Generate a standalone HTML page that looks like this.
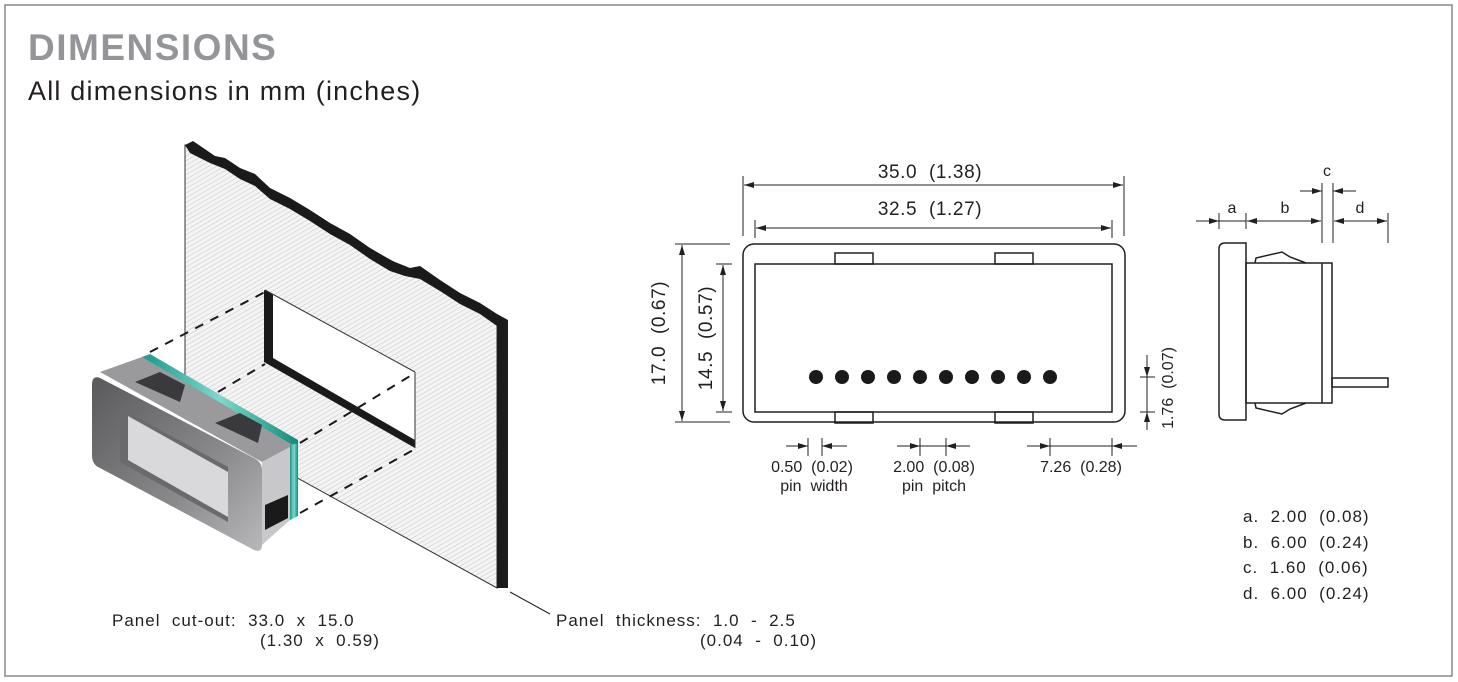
<!DOCTYPE html>
<html><head><meta charset="utf-8"><style>
html,body{margin:0;padding:0;background:#fff;}
svg{display:block;}
text{font-family:"Liberation Sans",sans-serif;fill:#231f20;}
</style></head><body>
<svg width="1458" height="682" viewBox="0 0 1458 682" xmlns="http://www.w3.org/2000/svg">
<defs>
<pattern id="hatch" width="4" height="4" patternUnits="userSpaceOnUse" patternTransform="rotate(60)">
<rect width="4" height="4" fill="#f4f4f4"/><line x1="0" y1="0" x2="0" y2="4" stroke="#c4c4c4" stroke-width="1"/>
</pattern>
<linearGradient id="bez" x1="0" y1="0" x2="1" y2="1"><stop offset="0" stop-color="#5a5a5c"/><stop offset="0.6" stop-color="#8a8a8c"/><stop offset="1" stop-color="#b8b8ba"/></linearGradient>
<linearGradient id="teal" x1="0" y1="0" x2="1" y2="0"><stop offset="0" stop-color="#1a9a8c"/><stop offset="0.5" stop-color="#7fd8cc"/><stop offset="1" stop-color="#138a7c"/></linearGradient>
<marker id="ar" viewBox="0 0 10 6" refX="10" refY="3" markerWidth="12" markerHeight="6" markerUnits="userSpaceOnUse" orient="auto-start-reverse"><path d="M0,0 L10,3 L0,6 Z" fill="#231f20"/></marker>
</defs>
<rect x="5" y="5" width="1447" height="671" fill="none" stroke="#888" stroke-width="1.5"/>
<text x="28" y="60" font-size="37" font-weight="bold" letter-spacing="1.5" style="fill:#939598">DIMENSIONS</text>
<text x="28" y="100" font-size="27" letter-spacing="1.2">All dimensions in mm (inches)</text>

<!-- Panel -->
<polygon points="185,145 497,320 497,588 185,416" fill="url(#hatch)" stroke="#333" stroke-width="1"/>
<path d="M185,145 L193,141 L215,156 L225,158 L240,168 L255,174 L270,188 L290,198 L310,210 L330,223 L350,234 L370,248 L390,260 L410,268 L420,266 L440,280 L460,293 L480,303 L497,314 L508,320 L508,588 L497,588 L497,326 L480,314 L460,304 L440,291 L420,279 L405,276 L390,271 L370,259 L350,245 L330,234 L310,221 L290,209 L270,199 L255,186 L240,179 L225,169 L210,163 L190,153 Z" fill="#1a1a1a"/>
<!-- cutout -->
<polygon points="265,290 415,372 415,448 265,362" fill="#fff"/>
<polygon points="264,290 273,294 273,358 415,440 415,448 264,362" fill="#1a1a1a"/>
<line x1="265" y1="290" x2="415" y2="372" stroke="#333" stroke-width="1"/>
<line x1="415" y1="372" x2="415" y2="448" stroke="#333" stroke-width="1"/>
<!-- dashed -->
<g stroke="#1a1a1a" stroke-width="2" stroke-dasharray="9,8" fill="none">
<line x1="150" y1="352" x2="265" y2="292"/>
<line x1="218" y1="392" x2="265" y2="364"/>
<line x1="300" y1="443" x2="415" y2="373"/>
<line x1="300" y1="513" x2="415" y2="449"/>
</g>
<!-- device -->
<polygon points="100,372 142,357 298,443 262,462" fill="#9a9a9c"/>
<polygon points="142,357 150,354 298,440 298,448" fill="url(#teal)"/>
<polygon points="290,445 298,443 298,516 290,520" fill="url(#teal)"/>
<polygon points="262,462 290,447 290,520 262,545" fill="#c8c8ca"/>
<polygon points="265,505 288,495 288,518 265,530" fill="#1a1a1a"/>
<polygon points="135,382 160,372 185,385 180,402" fill="#3a3a3c"/>
<polygon points="215,423 240,413 262,425 258,443" fill="#3a3a3c"/>
<path d="M100,378 Q92,375 92,385 L92,455 Q92,465 100,468 L254,550 Q262,553 262,545 L262,470 Q262,462 254,458 Z" fill="url(#bez)"/>
<polygon points="120,408 228,467 228,522 120,462" fill="#6a6a6c"/>
<polygon points="128,416 228,472 228,517 128,460" fill="#d9d9db"/>

<!-- leader -->
<line x1="510" y1="592" x2="550" y2="614" stroke="#231f20" stroke-width="1"/>
<g font-size="17" letter-spacing="1">
<text x="112" y="626" xml:space="preserve">Panel  cut-out:  33.0  x  15.0</text>
<text x="260" y="646" xml:space="preserve">(1.30  x  0.59)</text>
<text x="556" y="626" xml:space="preserve">Panel  thickness:  1.0  -  2.5</text>
<text x="700" y="646" xml:space="preserve">(0.04  -  0.10)</text>
<text x="1243" y="522" xml:space="preserve">a.  2.00  (0.08)</text>
<text x="1243" y="548" xml:space="preserve">b.  6.00  (0.24)</text>
<text x="1243" y="573" xml:space="preserve">c.  1.60  (0.06)</text>
<text x="1243" y="599" xml:space="preserve">d.  6.00  (0.24)</text>
</g>

<!-- front view -->
<g stroke="#231f20" stroke-width="1.5" fill="none">
<rect x="743" y="244" width="382" height="178" rx="11"/>
<rect x="755" y="264" width="357" height="148"/>
<rect x="835" y="253" width="38" height="11"/>
<rect x="995" y="253" width="38" height="11"/>
<rect x="835" y="412" width="38" height="11"/>
<rect x="995" y="412" width="38" height="11"/>
</g>
<g fill="#1a1a1a">
<circle cx="816" cy="377" r="7"/><circle cx="842" cy="377" r="7"/><circle cx="868" cy="377" r="7"/><circle cx="894" cy="377" r="7"/><circle cx="920" cy="377" r="7"/><circle cx="946" cy="377" r="7"/><circle cx="972" cy="377" r="7"/><circle cx="998" cy="377" r="7"/><circle cx="1024" cy="377" r="7"/><circle cx="1050" cy="377" r="7"/>
</g>
<g stroke="#231f20" stroke-width="1">
<line x1="743" y1="176" x2="743" y2="236"/><line x1="1124" y1="176" x2="1124" y2="236"/>
<line x1="755" y1="220" x2="755" y2="238"/><line x1="1112" y1="220" x2="1112" y2="238"/>
<line x1="744" y1="185" x2="1123" y2="185" marker-start="url(#ar)" marker-end="url(#ar)"/>
<line x1="756" y1="228" x2="1111" y2="228" marker-start="url(#ar)" marker-end="url(#ar)"/>
<line x1="675" y1="244" x2="730" y2="244"/><line x1="675" y1="422" x2="730" y2="422"/>
<line x1="716" y1="264" x2="732" y2="264"/><line x1="716" y1="412" x2="732" y2="412"/>
<line x1="682" y1="245" x2="682" y2="421" marker-start="url(#ar)" marker-end="url(#ar)"/>
<line x1="723" y1="265" x2="723" y2="411" marker-start="url(#ar)" marker-end="url(#ar)"/>
<line x1="1147" y1="355" x2="1147" y2="377" marker-end="url(#ar)"/>
<line x1="1147" y1="430" x2="1147" y2="412" marker-end="url(#ar)"/>
<line x1="1147" y1="377" x2="1147" y2="412"/>
<line x1="1140" y1="377" x2="1155" y2="377"/><line x1="1140" y1="412" x2="1155" y2="412"/>
<line x1="786" y1="446" x2="808" y2="446" marker-end="url(#ar)"/>
<line x1="847" y1="446" x2="822" y2="446" marker-end="url(#ar)"/>
<line x1="808" y1="438" x2="808" y2="456"/><line x1="822" y1="438" x2="822" y2="456"/>
<line x1="897" y1="446" x2="920" y2="446" marker-end="url(#ar)"/>
<line x1="970" y1="446" x2="946" y2="446" marker-end="url(#ar)"/>
<line x1="920" y1="438" x2="920" y2="456"/><line x1="946" y1="438" x2="946" y2="456"/><line x1="920" y1="446" x2="946" y2="446"/>
<line x1="1027" y1="446" x2="1050" y2="446" marker-end="url(#ar)"/>
<line x1="1137" y1="446" x2="1112" y2="446" marker-end="url(#ar)"/>
<line x1="1050" y1="438" x2="1050" y2="456"/><line x1="1112" y1="438" x2="1112" y2="456"/><line x1="1050" y1="446" x2="1112" y2="446"/>
</g>
<g font-size="19" text-anchor="middle" letter-spacing="0.6">
<text x="930" y="178" xml:space="preserve">35.0  (1.38)</text>
<text x="930" y="215" xml:space="preserve">32.5  (1.27)</text>
<text transform="translate(665,333) rotate(-90)" xml:space="preserve">17.0  (0.67)</text>
<text transform="translate(712,338) rotate(-90)" xml:space="preserve">14.5  (0.57)</text>
</g>
<g font-size="16" text-anchor="middle">
<text transform="translate(1173,388) rotate(-90)" xml:space="preserve">1.76  (0.07)</text>
<text x="812" y="472" xml:space="preserve">0.50  (0.02)</text>
<text x="814" y="491" xml:space="preserve">pin  width</text>
<text x="934" y="472" xml:space="preserve">2.00  (0.08)</text>
<text x="934" y="491" xml:space="preserve">pin  pitch</text>
<text x="1081" y="472" xml:space="preserve">7.26  (0.28)</text>
</g>

<!-- side view -->
<g stroke="#231f20" stroke-width="1.5" fill="none">
<path d="M1246,243 L1225,243 Q1219,243 1219,249 L1219,414 Q1219,420 1225,420 L1246,420 Z"/>
<rect x="1246" y="263" width="86" height="140"/>
<line x1="1322" y1="263" x2="1322" y2="403"/>
<rect x="1332" y="378" width="56" height="9"/>
<path d="M1255,263 L1256,258 L1282,252 L1290,257 L1306,263"/>
<path d="M1255,403 L1256,408 L1282,414 L1290,409 L1306,403"/>
</g>
<g stroke="#231f20" stroke-width="1">
<line x1="1196" y1="221" x2="1219" y2="221" marker-end="url(#ar)"/>
<line x1="1219" y1="213" x2="1219" y2="229"/>
<line x1="1246" y1="213" x2="1246" y2="229"/>
<line x1="1219" y1="221" x2="1246" y2="221"/>
<line x1="1247" y1="221" x2="1321" y2="221" marker-start="url(#ar)" marker-end="url(#ar)"/>
<line x1="1322" y1="183" x2="1322" y2="243"/><line x1="1333" y1="183" x2="1333" y2="243"/>
<line x1="1300" y1="191" x2="1322" y2="191" marker-end="url(#ar)"/>
<line x1="1356" y1="191" x2="1333" y2="191" marker-end="url(#ar)"/>
<line x1="1334" y1="221" x2="1387" y2="221" marker-start="url(#ar)" marker-end="url(#ar)"/>
<line x1="1388" y1="213" x2="1388" y2="243"/>
</g>
<g font-size="16" text-anchor="middle">
<text x="1232" y="213">a</text>
<text x="1285" y="213">b</text>
<text x="1327" y="176">c</text>
<text x="1360" y="213">d</text>
</g>
</svg>
</body></html>
